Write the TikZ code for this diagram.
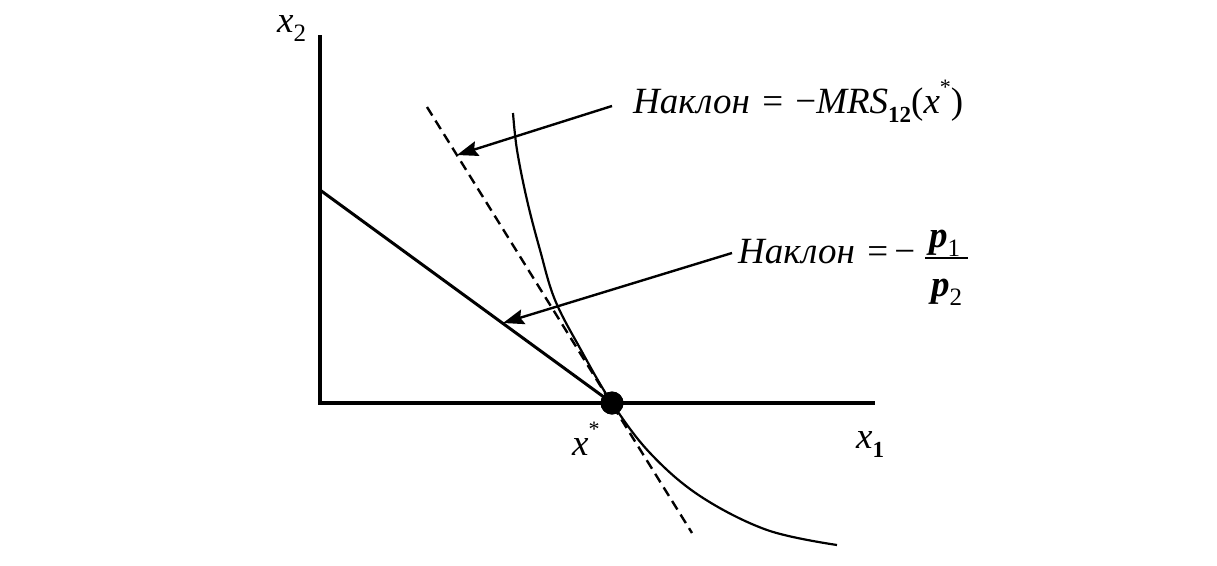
\documentclass[tikz,border=0pt]{standalone}
\usepackage{fontspec}
\setmainfont{Liberation Serif}
\usetikzlibrary{arrows.meta}
\newcommand{\fsz}{\fontsize{37}{42}\selectfont}
\newcommand{\subb}[1]{\raisebox{-0.25em}{\fontsize{23}{25}\selectfont\bfseries #1}}
\newcommand{\subn}[1]{\raisebox{-0.25em}{\fontsize{25}{27}\selectfont #1}}
\newcommand{\supp}[1]{\raisebox{0.5em}{\fontsize{22}{24}\selectfont #1}}
\begin{document}
\begin{tikzpicture}[x=1pt,y=-1pt,
  axis/.style={line width=3.2pt},
  budget/.style={line width=3pt},
  icurve/.style={line width=2.2pt},
  tangent/.style={line width=2.4pt,dash pattern=on 10pt off 6pt},
  pointer/.style={line width=2.4pt,-{Stealth[length=21pt,width=15pt,inset=3pt]}},
  lab/.style={inner sep=0pt,font=\fsz}]
\useasboundingbox (0,0) rectangle (1217,565);
% coordinates
\coordinate (O) at (320,403);
\coordinate (Ytop) at (320,35);
\coordinate (Xend) at (875,403);
\coordinate (B) at (320,190);
\coordinate (T1) at (427,107);
\coordinate (T2) at (692,533);
\coordinate (A1s) at (612,106);
\coordinate (A1e) at (457,155);
\coordinate (A2s) at (732,253);
\coordinate (A2e) at (503,323);
\coordinate (F1) at (925,258);
\coordinate (F2) at (968,258);
% axes
\draw[axis] (Ytop) -- (O) -- (Xend);
% budget line
\node[circle,fill=black,inner sep=0pt,minimum size=23pt] (X) at (612,403) {};
\draw[budget] (B) -- (X.center);
% tangent
\draw[tangent] (T1) -- (T2);
% indifference curve
\draw[icurve] plot[smooth,tension=0.6] coordinates {(513,113) (517,150) (527,200) (540,250) (555,300) (581,350) (612,403) (650,453) (700,496) (767,530) (837,545)};
\node[circle,fill=black,inner sep=0pt,minimum size=23pt] at (X) {};
% labels
\node[lab,anchor=base west] (lx2) at (277,32) {\textit{x}\subn{2}};
\node[lab,anchor=base west] (lx1) at (856,448) {\textit{x}\subb{1}};
\node[lab,anchor=base west] (lxs) at (572,455) {\textit{x}\supp{*}};
\node[lab,anchor=base west] (L1) at (633,113) {\textit{Наклон}\,\,=\,\,−\textit{MRS}\subb{12}(\textit{x}\supp{*})};
\node[lab,anchor=base west] (L2) at (738,263) {\textit{Наклон}\,\,=\,−};
\node[lab,anchor=base west] (P1) at (929,247) {\textbf{\textit{p}}\subn{1}};
\node[lab,anchor=base west] (P2) at (931,296) {\textbf{\textit{p}}\subn{2}};
\draw[line width=2.4pt] (F1) -- (F2);
% pointers
\draw[pointer] (A1s) -- (A1e);
\draw[pointer] (A2s) -- (A2e);
\end{tikzpicture}
\end{document}
